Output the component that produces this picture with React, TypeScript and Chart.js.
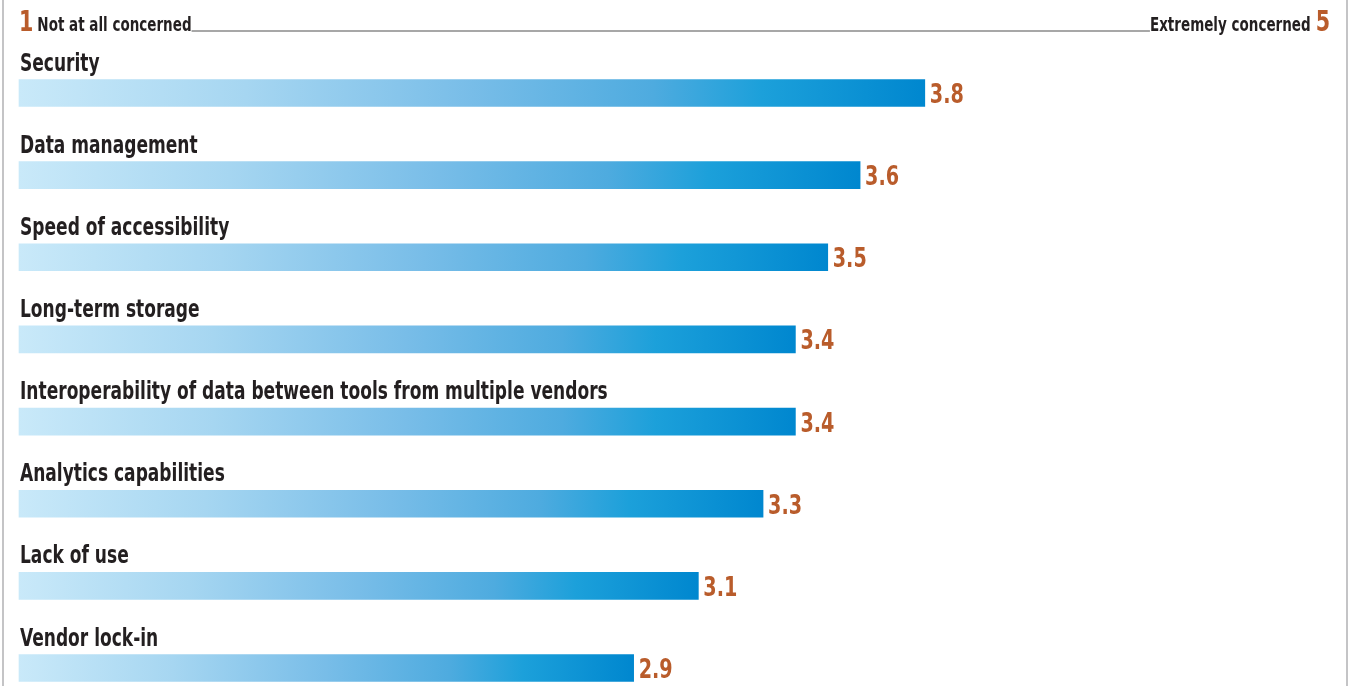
import React, { useEffect, useRef } from "react";
import { Chart, registerables } from "chart.js";

Chart.register(...registerables);

const categories = [
  "Security",
  "Data management",
  "Speed of accessibility",
  "Long-term storage",
  "Interoperability of data between tools from multiple vendors",
  "Analytics capabilities",
  "Lack of use",
  "Vendor lock-in",
];
const scores = [3.8, 3.6, 3.5, 3.4, 3.4, 3.3, 3.1, 2.9];
const scaleMin = 1;
const scaleMax = 5;
const scaleMinLabel = "Not at all concerned";
const scaleMaxLabel = "Extremely concerned";

const ORANGE = "#b95c2b";
const DARK = "#231f20";
const FONT = "'DejaVu Sans Condensed', 'Liberation Sans Narrow', sans-serif";
const SX = 0.79;

function drawText(ctx: CanvasRenderingContext2D, text: string, x: number, y: number, font: string, color: string, align: "left" | "right") {
  ctx.save();
  ctx.font = font;
  ctx.fillStyle = color;
  ctx.textAlign = "left";
  ctx.textBaseline = "alphabetic";
  const w = ctx.measureText(text).width * SX;
  const x0 = align === "left" ? x : x - w;
  ctx.translate(x0, y);
  ctx.scale(SX, 1);
  ctx.fillText(text, 0, 0);
  ctx.restore();
  return w;
}

const overlayPlugin = {
  id: "overlay",
  afterDatasetsDraw(chart: any) {
    const ctx = chart.ctx;
    const meta = chart.getDatasetMeta(0);
    ctx.save();
    ctx.strokeStyle = "#c4c4c6";
    ctx.lineWidth = 2;
    ctx.beginPath();
    ctx.moveTo(3, 0);
    ctx.lineTo(3, chart.height);
    ctx.moveTo(1347, 0);
    ctx.lineTo(1347, chart.height);
    ctx.stroke();
    ctx.restore();

    const left = chart.chartArea.left;
    const xs = chart.scales.x;
    const rightEnd = xs.getPixelForValue(scaleMax);
    const bigFont = `bold 29px ${FONT}`;
    const hdrFont = `bold 19px ${FONT}`;

    const w1 = drawText(ctx, String(scaleMin), left, 31, bigFont, ORANGE, "left");
    const wl = drawText(ctx, scaleMinLabel, left + w1 + 4, 31, hdrFont, DARK, "left");
    const lineStart = left + w1 + 4 + wl;

    const rx = rightEnd + 17;
    const w5 = drawText(ctx, String(scaleMax), rx, 31, bigFont, ORANGE, "right");
    const wr = drawText(ctx, scaleMaxLabel, rx - w5 - 5, 31, hdrFont, DARK, "right");
    const lineEnd = rx - w5 - 5 - wr;

    ctx.save();
    ctx.strokeStyle = "#8a8a8a";
    ctx.lineWidth = 1.5;
    ctx.beginPath();
    ctx.moveTo(lineStart, 31);
    ctx.lineTo(lineEnd, 31);
    ctx.stroke();
    ctx.restore();

    meta.data.forEach((bar: any, i: number) => {
      const top = bar.y - bar.height / 2;
      drawText(ctx, categories[i], left + 1, top - 9, `bold 24px ${FONT}`, DARK, "left");
      drawText(ctx, scores[i].toFixed(1), bar.x + 5, bar.y + 10, `bold 27px ${FONT}`, ORANGE, "left");
    });
  },
};

export default function App() {
  const ref = useRef<HTMLCanvasElement | null>(null);
  useEffect(() => {
    if (!ref.current) return;
    const chart = new Chart(ref.current, {
      type: "bar",
      data: {
        labels: categories,
        datasets: [
          {
            data: scores,
            base: scaleMin,
            barThickness: 27,
            clip: false as any,
            borderWidth: 0,
            backgroundColor: (c: any) => {
              const ch = c.chart;
              const xs = ch.scales && ch.scales.x;
              if (!xs || c.type !== "data" || !ch.chartArea) return "#0088d0";
              const x0 = xs.getPixelForValue(scaleMin);
              const x1 = xs.getPixelForValue(c.raw);
              if (!isFinite(x0) || !isFinite(x1) || x1 <= x0) return "#0088d0";
              const g = ch.ctx.createLinearGradient(x0, 0, x1, 0);
              g.addColorStop(0, "#c9e9f9");
              g.addColorStop(0.25, "#a6d6f1");
              g.addColorStop(0.5, "#78bde8");
              g.addColorStop(0.7, "#4eabdf");
              g.addColorStop(0.82, "#1ca0da");
              g.addColorStop(1, "#0087cf");
              return g;
            },
          } as any,
        ],
      },
      options: {
        indexAxis: "y",
        responsive: false,
        animation: false,
        layout: { padding: { left: 19, right: 45, top: 93, bottom: 18 } },
        plugins: { legend: { display: false }, tooltip: { enabled: false } },
        scales: {
          x: { type: "linear", min: scaleMin, max: scaleMax, display: false },
          y: { type: "category", offset: false, display: false, grid: { offset: false } },
        },
      },
      plugins: [overlayPlugin],
    });
    return () => chart.destroy();
  }, []);
  return (
    <div style={{ position: "fixed", left: 0, top: 0, width: 1358, height: 686, background: "#fff" }}>
      <canvas ref={ref} width={1358} height={686} style={{ display: "block" }} />
    </div>
  );
}
